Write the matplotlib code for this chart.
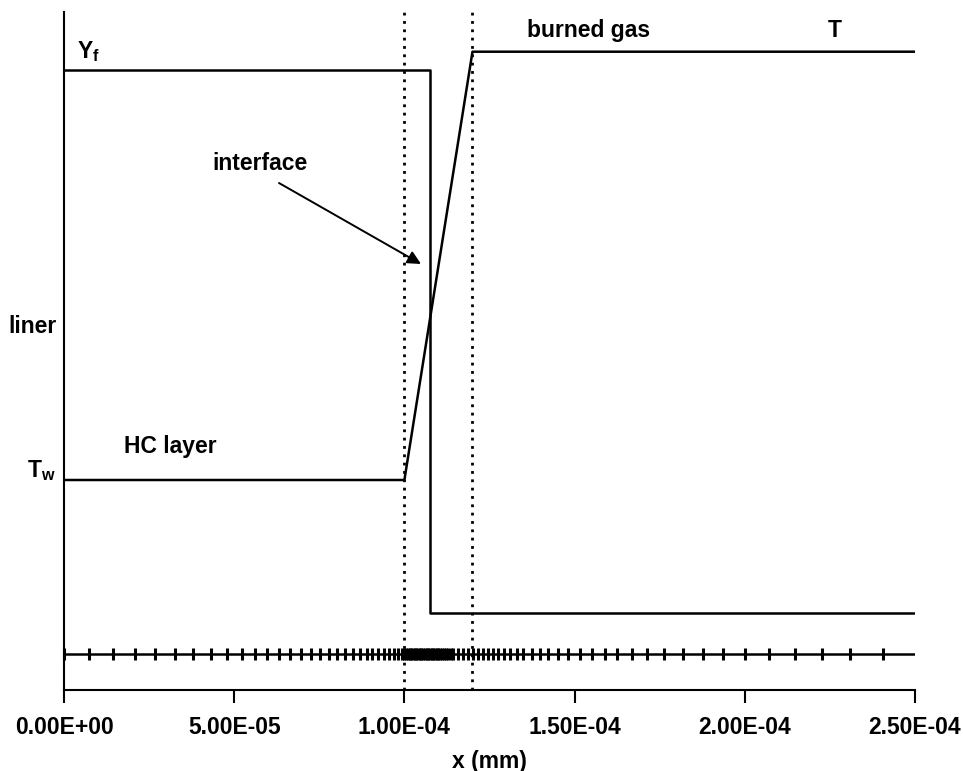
import matplotlib.pyplot as plt

plt.rcParams['font.family'] = ['Liberation Sans', 'DejaVu Sans']
plt.rcParams['mathtext.fontset'] = 'custom'
plt.rcParams['mathtext.rm'] = 'Liberation Sans:bold'

# domain and interface positions (mm)
x_min, x_max = 0.0, 2.5e-4
x_layer = 1.0e-4      # edge of the HC layer
x_burned = 1.2e-4     # start of burned gas
x_ticks = [0.0, 5.0e-5, 1.0e-4, 1.5e-4, 2.0e-4, 2.5e-4]

# fuel mass fraction profile (normalised)
yf_x = [0.0, 1.075e-4, 1.075e-4, 2.5e-4]
yf_val = [1.0, 1.0, 0.0, 0.0]

# temperature profile (normalised, 0 = Tw, 1 = burned gas)
t_x = [0.0, 1.0e-4, 1.2e-4, 2.5e-4]
t_val = [0.0, 0.0, 1.0, 1.0]

# mesh nodes, in units of 1e-6 mm
mesh_nodes = [
    0.0, 7.4, 14.5, 20.9, 26.7, 32.6, 38.0, 43.2, 47.8, 52.2, 56.1, 59.7,
    63.2, 66.4, 69.5, 72.6, 75.2, 77.8, 80.3, 82.5, 84.8, 86.9, 88.9, 90.6,
    92.3, 94.0, 95.5, 96.9, 98.2, 99.4,
    100.0, 100.5, 101.0, 101.5, 102.0, 102.5, 103.0, 103.5, 104.0, 104.5,
    105.0, 105.5, 106.0, 106.5, 107.0, 107.5, 108.0, 108.5, 109.0, 109.5,
    110.0, 110.5, 111.0, 111.6, 112.2, 112.9, 113.6,
    114.4, 115.7, 117.2, 118.7, 120.2, 121.6, 123.2, 124.6, 126.1, 127.6,
    129.3, 131.0, 133.0, 134.9, 137.4, 139.8, 142.3, 145.2, 148.1, 151.6,
    155.0, 158.9, 162.5, 166.8, 171.2, 176.3, 181.9, 187.6, 193.7, 200.1,
    207.2, 214.7, 222.6, 230.9, 240.5,
]

W, H = 963, 771
fig = plt.figure(figsize=(W / 100, H / 100), dpi=100)
left, right, bottom, top = 64, 915, 690, 12
ax = fig.add_axes([left / W, 1 - bottom / H, (right - left) / W, (bottom - top) / H])
ax.set_xlim(x_min, x_max)
ax.set_ylim(0, 1)
for s in ['top', 'right']:
    ax.spines[s].set_visible(False)
ax.spines['left'].set_linewidth(1.5)
ax.spines['bottom'].set_linewidth(1.5)
ax.set_yticks([])
ax.set_xticks(x_ticks)
ax.set_xticklabels(['{:.2E}'.format(v) for v in x_ticks])
ax.tick_params(axis='x', direction='out', length=9, width=1.5, pad=9.5,
               labelsize=16.5)
for lab in ax.get_xticklabels():
    lab.set_fontweight('bold')
ax.set_xlabel('x (mm)', fontsize=16.5, fontweight='bold', labelpad=8)

# mesh line
mesh_y = (bottom - 654) / (bottom - top)
ax.axhline(mesh_y, color='black', lw=1.8)
ax.plot([n * 1e-6 for n in mesh_nodes], [mesh_y] * len(mesh_nodes),
        ls='none', marker='|', ms=9, mew=2.2, color='black', clip_on=False)

# dotted interface lines
for xv in [x_layer, x_burned]:
    ax.axvline(xv, color='black', lw=2, ls=(0, (1, 2)), dash_capstyle='butt')

# Y_f profile
ax_yf = ax.twinx()
ax_yf.set_axis_off()
ax_yf.set_ylim(-(bottom - 613) / 543, 1 + (70 - top) / 543)
ax_yf.plot(yf_x, yf_val, color='black', lw=1.8)

# temperature profile
ax_t = ax.twinx()
ax_t.set_axis_off()
ax_t.set_ylim(-(bottom - 480) / 428.3, 1 + (51.7 - top) / 428.3)
ax_t.plot(t_x, t_val, color='black', lw=1.8)

def label(px, py, s, **kw):
    fig.text(px / W, 1 - py / H, s, fontsize=16.5, fontweight='bold',
             va='baseline', **kw)

label(77, 58, r'Y$_\mathregular{f}$')
label(527, 37, 'burned gas')
label(828, 37, 'T')
label(212, 170, 'interface')
label(8, 333, 'liner')
label(124, 453, 'HC layer')
label(27, 477, r'T$_\mathregular{w}$')

ax.annotate('', xy=(421 / W, 1 - 264 / H), xytext=(279 / W, 1 - 183 / H),
            xycoords='figure fraction', textcoords='figure fraction',
            arrowprops=dict(arrowstyle='-|>', color='black', lw=1.4,
                            mutation_scale=20, shrinkA=0, shrinkB=0))

fig.savefig('out.png', dpi=100)
